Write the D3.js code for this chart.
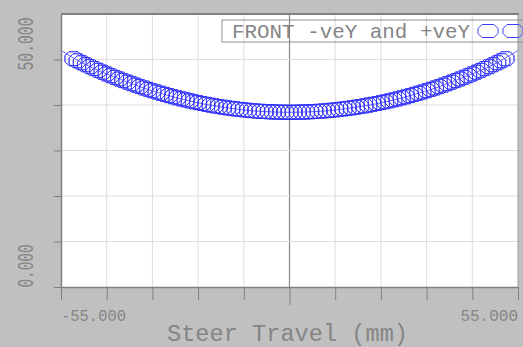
<!DOCTYPE html>
<html>
<head>
<meta charset="utf-8">
<script src="https://cdn.jsdelivr.net/npm/d3@7"></script>
<style>
  body { margin: 0; background: #c0c0c0; }
  svg { display: block; }
  text { font-family: "Liberation Mono", "DejaVu Sans Mono", monospace; fill: #858585; }
</style>
</head>
<body>
<script>
// steer travel (mm) for the marker points
var travel = [-52,-51,-50,-49,-48,-47,-46,-45,-44,-43,-42,-41,-40,-39,-38,-37,-36,-35,-34,-33,-32,-31,-30,-29,-28,-27,-26,-25,-24,-23,-22,-21,-20,-19,-18,-17,-16,-15,-14,-13,-12,-11,-10,-9,-8,-7,-6,-5,-4,-3,-2,-1,
  0,1,2,3,4,5,6,7,8,9,10,11,12,13,14,15,16,17,18,19,20,21,22,23,24,25,26,27,28,29,30,31,32,33,34,35,36,37,38,39,40,41,42,43,44,45,46,47,48,49,50,51,52];

// FRONT -veY
var frontNegY = [50.16,49.71,49.28,48.84,48.42,48.01,47.60,47.21,46.82,46.44,46.07,45.71,45.36,45.02,44.68,44.36,44.04,43.73,43.43,43.14,42.85,42.58,42.32,42.06,41.81,41.57,41.34,41.12,40.91,40.70,40.51,40.32,40.14,39.97,39.81,39.66,39.51,39.38,39.25,39.14,39.03,38.93,38.84,38.75,38.68,38.61,38.56,38.51,38.47,38.44,38.42,38.40,
  38.40,38.40,38.42,38.44,38.47,38.51,38.56,38.61,38.68,38.75,38.84,38.93,39.03,39.14,39.25,39.38,39.51,39.66,39.81,39.97,40.14,40.32,40.51,40.70,40.91,41.12,41.34,41.57,41.81,42.06,42.32,42.58,42.85,43.14,43.43,43.73,44.04,44.36,44.68,45.02,45.36,45.71,46.07,46.44,46.82,47.21,47.60,48.01,48.42,48.84,49.28,49.71,50.16];

// FRONT +veY
var frontPosY = [50.18,49.73,49.29,48.86,48.43,48.02,47.61,47.22,46.83,46.45,46.08,45.72,45.37,45.03,44.69,44.37,44.05,43.74,43.44,43.15,42.86,42.59,42.33,42.07,41.82,41.58,41.35,41.13,40.92,40.71,40.52,40.33,40.15,39.98,39.82,39.67,39.52,39.39,39.26,39.15,39.04,38.94,38.85,38.76,38.69,38.62,38.57,38.52,38.48,38.45,38.43,38.41,
  38.41,38.41,38.43,38.45,38.48,38.52,38.57,38.62,38.69,38.76,38.85,38.94,39.04,39.15,39.26,39.39,39.52,39.67,39.82,39.98,40.15,40.33,40.52,40.71,40.92,41.13,41.35,41.58,41.82,42.07,42.33,42.59,42.86,43.15,43.44,43.74,44.05,44.37,44.69,45.03,45.37,45.72,46.08,46.45,46.83,47.22,47.61,48.02,48.43,48.86,49.29,49.73,50.18];

// fitted line across the full travel
var lineTravel = [-55,-50,-45,-40,-35,-30,-25,-20,-15,-10,-5,0,5,10,15,20,25,30,35,40,45,50,55];
var lineValues = [52.0,49.3,47.2,45.4,43.7,42.3,41.1,40.1,39.4,38.8,38.5,38.4,38.5,38.8,39.4,40.1,41.1,42.3,43.7,45.4,47.2,49.3,52.0];

var xTicks = [-55,-44,-33,-22,-11,0,11,22,33,44,55];
var yTicks = [0,10,20,30,40,50,60];

var W = 523, H = 347;
var plotL = 61, plotR = 518, plotT = 14, plotB = 287;

var svg = d3.select("body").append("svg")
  .attr("width", W)
  .attr("height", H);

var x = d3.scaleLinear().domain([-55, 55]).range([plotL, plotR]);
var y = d3.scaleLinear().domain([0, 60]).range([plotB, plotT]);

// plot area
svg.append("rect")
  .attr("x", plotL).attr("y", plotT)
  .attr("width", plotR - plotL).attr("height", plotB - plotT)
  .attr("fill", "#fff");

// grid
svg.append("g").selectAll("line")
  .data(xTicks.slice(1, -1))
  .join("line")
  .attr("x1", d => x(d)).attr("x2", d => x(d))
  .attr("y1", plotT).attr("y2", plotB)
  .attr("stroke", d => d === 0 ? "#8a8a8a" : "#dedede")
  .attr("stroke-width", d => d === 0 ? 1.2 : 1);

svg.append("g").selectAll("line")
  .data(yTicks.slice(1, -1))
  .join("line")
  .attr("x1", plotL).attr("x2", plotR)
  .attr("y1", d => y(d)).attr("y2", d => y(d))
  .attr("stroke", "#dedede");

// axes (ticks only, labels drawn separately)
var xAxis = svg.append("g")
  .attr("transform", "translate(0," + plotB + ")")
  .call(d3.axisBottom(x).tickValues(xTicks).tickSize(13).tickSizeOuter(0).tickFormat(""));
xAxis.selectAll(".tick line").attr("stroke", "#808080").attr("y2", d => d === 0 ? 18 : 13);
xAxis.select(".domain").attr("stroke", "#808080").attr("stroke-width", 1.5);

var yAxis = svg.append("g")
  .attr("transform", "translate(" + plotL + ",0)")
  .call(d3.axisLeft(y).tickValues(yTicks.slice(0, -1)).tickSize(7).tickSizeOuter(0).tickFormat(""));
yAxis.selectAll(".tick line").attr("stroke", "#808080");
yAxis.select(".domain").attr("stroke", "#808080").attr("stroke-width", 1.5);

// top and right borders
svg.append("line")
  .attr("x1", plotL).attr("x2", plotR + 1)
  .attr("y1", plotT).attr("y2", plotT)
  .attr("stroke", "#808080").attr("stroke-width", 2);
svg.append("line")
  .attr("x1", plotR).attr("x2", plotR)
  .attr("y1", plotT).attr("y2", plotB)
  .attr("stroke", "#a0a0a0").attr("stroke-width", 1);

// fitted line
svg.append("path")
  .datum(d3.zip(lineTravel, lineValues))
  .attr("fill", "none")
  .attr("stroke", "#6a6aff")
  .attr("stroke-width", 1)
  .attr("d", d3.line().x(d => x(d[0])).y(d => y(d[1])).curve(d3.curveCatmullRom));

// octagon markers
var octagon = function(w, h, c) {
  var a = w / 2, b = h / 2;
  return "M" + (-a) + "," + (-b + c) + "L" + (-a + c) + "," + (-b) + "L" + (a - c) + "," + (-b) +
    "L" + a + "," + (-b + c) + "L" + a + "," + (b - c) + "L" + (a - c) + "," + b +
    "L" + (-a + c) + "," + b + "L" + (-a) + "," + (b - c) + "Z";
};

[frontNegY, frontPosY].forEach(function(series) {
  svg.append("g").selectAll("path")
    .data(d3.zip(travel, series))
    .join("path")
    .attr("transform", d => "translate(" + x(d[0]) + "," + y(d[1]) + ")")
    .attr("d", octagon(17, 14, 4))
    .attr("fill", "none")
    .attr("stroke", "#2f2fff")
    .attr("stroke-width", 0.75);
});

// legend
svg.append("rect")
  .attr("x", 222).attr("y", 20)
  .attr("width", 320).attr("height", 22)
  .attr("fill", "none")
  .attr("stroke", "#909090");
svg.append("text")
  .attr("x", 232).attr("y", 38)
  .attr("font-size", 21)
  .attr("textLength", 238)
  .attr("lengthAdjust", "spacingAndGlyphs")
  .text("FRONT -veY and +veY");
[488, 513].forEach(function(cx) {
  svg.append("path")
    .attr("transform", "translate(" + cx + ",31)")
    .attr("d", octagon(20, 13, 4))
    .attr("fill", "none")
    .attr("stroke", "#3c3cff")
    .attr("stroke-width", 1);
});

// tick labels
svg.append("text")
  .attr("x", plotL).attr("y", 321)
  .attr("font-size", 16)
  .attr("textLength", 65)
  .attr("lengthAdjust", "spacingAndGlyphs")
  .text("-55.000");
svg.append("text")
  .attr("x", plotR).attr("y", 321)
  .attr("text-anchor", "end")
  .attr("font-size", 16)
  .text("55.000");

svg.append("text")
  .attr("transform", "translate(33,44) rotate(-90)")
  .attr("text-anchor", "middle")
  .attr("font-size", 22)
  .attr("textLength", 53)
  .attr("lengthAdjust", "spacingAndGlyphs")
  .text("50.000");
svg.append("text")
  .attr("transform", "translate(33,266) rotate(-90)")
  .attr("text-anchor", "middle")
  .attr("font-size", 22)
  .attr("textLength", 43)
  .attr("lengthAdjust", "spacingAndGlyphs")
  .text("0.000");

// axis title
svg.append("text")
  .attr("x", 167).attr("y", 341)
  .attr("font-size", 23)
  .attr("textLength", 241)
  .attr("lengthAdjust", "spacingAndGlyphs")
  .text("Steer Travel (mm)");
</script>
</body>
</html>
